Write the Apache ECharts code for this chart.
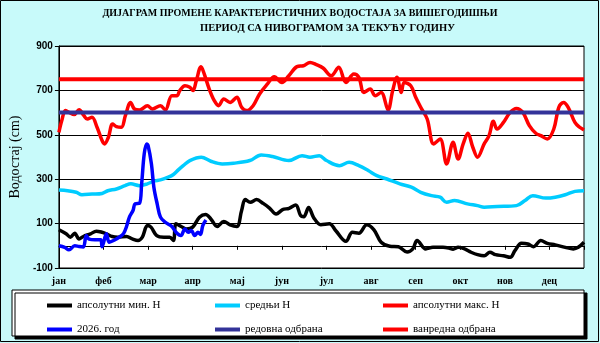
<!DOCTYPE html>
<html><head><meta charset="utf-8">
<script src="https://cdn.jsdelivr.net/npm/echarts@6/dist/echarts.min.js"></script>
<style>html,body{margin:0;padding:0;}#c{width:600px;height:343px;}</style>
</head><body><div id="c"></div>
<script>
const months = ['јан','феб','мар','апр','мај','јун','јул','авг','сеп','окт','нов','дец'];
const titleLines = ['ДИЈАГРАМ ПРОМЕНЕ КАРАКТЕРИСТИЧНИХ ВОДОСТАЈА ЗА ВИШЕГОДИШЊИ','ПЕРИОД СА НИВОГРАМОМ ЗА ТЕКУЋУ ГОДИНУ'];
const yName = 'Водостај (cm)';
const names = ['апсолутни мин. Н','средњи Н','апсолутни макс. Н','2026. год','редовна одбрана','ванредна одбрана'];

const minDays = [0,5,8,11,14,17,22,26,30,33,37,41,47,51,55,58,61.5,64,68,73,77,79.6,81.4,85,88.7,93,97.7,102,105.6,110,114.6,119,123.7,127,129.5,133,137.4,142,146.4,151,155.5,160,164.6,168,170.2,173.6,177,182,188,192.5,199.5,204,208.5,214,219,224,230,236,242,246,249,255,260,267,271,274,277.5,282,286.5,291,295.6,299.6,303.5,309,313.7,317,321.5,326,330,335,339.5,345,352,357.6,361,365];
const minVals = [72,54,39,57,31,42,54,66,61,54,42,39,42,31,24,39,91,84,46,39,39,24,99,87,76,84,129,141,121,87,110,94,87,159,208,196,208,191,170,143,163,169,184,136,131,173,128,95,99,68,20,61,57,95,72,16,-2,-4,-28,-14,24,-14,-7,-7,-10,-15,-7,-14,-29,-40,-45,-29,-40,-45,-52,-22,11,8,-4,24,11,4,-7,-14,-7,16];

const meanDays = [0,6,12,16,23,30,34,40,46,50,56,61.5,66,70.6,76,79.6,83,86.4,91,99,105.6,113.5,121.4,132.7,140.6,148.5,159.8,169,174.5,181,186,195,201.7,208.5,215,221,228,237,245,251.5,259,265,269.5,275,284,291,295.6,304.6,318,324,329.4,338.5,345,352,358.7,365];
const meanVals = [251,248,241,230,233,236,248,256,271,279,271,279,291,297,309,321,342,361,384,399,381,369,372,384,409,402,384,406,399,406,384,361,376,361,339,316,301,279,264,241,226,219,196,204,189,181,174,177,181,204,226,215,219,230,245,248];

const maxDays = [0,2,4.5,7,10.6,14,17.4,19.7,23,26.5,30,31.7,34.4,37.3,40,43.4,46.2,49.8,52.5,56,61.5,65,70.6,74,78.5,82,84,87.6,91,93.2,95.5,98.8,101,104.5,108,111,114.6,119,123.7,127,130.5,135,139.5,145,149.7,155,159.8,165.5,170,174.6,179,183.6,189.3,194.5,199.5,205,208.5,212,216.4,219.8,224,228.8,232,235,238,240,244.6,248,251.5,256,260.5,265,269.5,274,277.5,281,284.3,287.7,291,295.6,299,302,304.6,309,313.7,318,322.5,327,331.5,335,339.5,344,347.5,350.8,354,358.7,362,365];
const maxVals = [511,564,609,601,591,613,586,571,579,534,474,459,489,549,537,534,586,646,616,612,631,616,631,612,676,676,699,721,714,699,744,807,774,706,654,631,661,646,669,624,609,631,684,729,762,736,766,807,811,826,816,801,766,804,736,774,759,691,706,676,691,612,699,759,691,736,721,669,624,571,459,481,369,466,391,459,507,444,399,459,496,561,526,556,601,619,601,541,507,496,481,526,624,646,624,556,534,522];

const curDays = [0,4,7,11,14,17,19,21,25,29,30,33,35,39,42,45,47,49,51.5,53,56,57.5,59.3,61,62,64.3,66,68.3,70.6,74,78.5,81.4,84.8,87.6,90,92,94.4,96.6,98.4,100,102.2];
const curVals = [0,-7,-18,0,-3,-5,46,30,27,27,-4,54,16,27,39,56,87,129,159,189,191,279,414,459,451,369,264,189,129,106,87,61,46,76,61,69,46,61,51,91,116];

const regDays = [0,365];
const regVals = [600,600];
const extDays = [0,365];
const extVals = [750,750];

const zip = (a,b) => a.map((d,i)=>[d,b[i]]);
const colors = ['#000000','#00ccff','#ff0000','#0000ff','#333399','#ff0000'];
const dataSets = [zip(minDays,minVals),zip(meanDays,meanVals),zip(maxDays,maxVals),zip(curDays,curVals),zip(regDays,regVals),zip(extDays,extVals)];
const smoothFlags = [0.35,0.35,0.35,0.35,false,false];

const chart = echarts.init(document.getElementById('c'));
const legendPos = [[42,295],[210,295],[378,295],[42,319],[210,319],[378,319]];
chart.setOption({
  backgroundColor: '#c8fafa',
  animation: false,
  grid: {left:46, top:46, width:538, height:222, show:true, backgroundColor:'#ffffff', borderColor:'#000', borderWidth:1},
  graphic: [
    {type:'rect', shape:{x:0.5,y:0.5,width:598,height:341}, style:{fill:'none', stroke:'#000', lineWidth:1}, z:-1},
    {type:'rect', shape:{x:12,y:290,width:572,height:46}, style:{fill:'#fff', stroke:'#000', lineWidth:1, shadowColor:'#000', shadowOffsetX:3, shadowOffsetY:3, shadowBlur:0}, z:0},
    {type:'text', left:'center', top:8, x:0, style:{text:titleLines[0], font:'bold 10px "Liberation Serif"', fill:'#000', textAlign:'center'}, z:10},
    {type:'text', top:23, left:200, style:{text:titleLines[1], font:'bold 10.5px "Liberation Serif"', fill:'#000'}, z:10}
  ],
  legend: legendPos.map((p,i)=>({
    data:[names[i]], left:p[0], top:p[1], itemWidth:25, itemHeight:4, icon:'rect',
    textStyle:{fontFamily:'Liberation Serif', fontSize:11, color:'#000'}, z:5
  })),
  xAxis: {
    type:'value', min:0, max:365, interval:31,
    axisLine:{lineStyle:{color:'#000', width:1}},
    axisTick:{show:true, length:4, lineStyle:{color:'#000'}},
    splitLine:{show:false},
    axisLabel:{color:'#000', fontFamily:'Liberation Serif', fontWeight:'bold', fontSize:10, margin:8,
      formatter:(v)=>{const k=Math.round(v/31); return (Math.abs(v-k*31)<0.01 && k<12) ? months[k] : '';}}
  },
  yAxis: {
    type:'value', min:-100, max:900, interval:200,
    name:yName, nameLocation:'middle', nameGap:25, nameRotate:90,
    nameTextStyle:{fontFamily:'Liberation Serif', fontSize:14, color:'#000'},
    axisLine:{show:true, lineStyle:{color:'#000'}},
    axisTick:{show:true, length:4, lineStyle:{color:'#000'}},
    splitLine:{show:true, lineStyle:{color:'#000', width:1}},
    axisLabel:{color:'#000', fontFamily:'Liberation Sans', fontWeight:'bold', fontSize:10, margin:6}
  },
  series: names.map((n,i)=>({
    name:n, type:'line', data:dataSets[i], smooth:smoothFlags[i], showSymbol:false, symbol:'none',
    lineStyle:{color:colors[i], width: i>=4 ? 4 : 3.5}, itemStyle:{color:colors[i]}, z:2+i
  }))
});
</script></body></html>
